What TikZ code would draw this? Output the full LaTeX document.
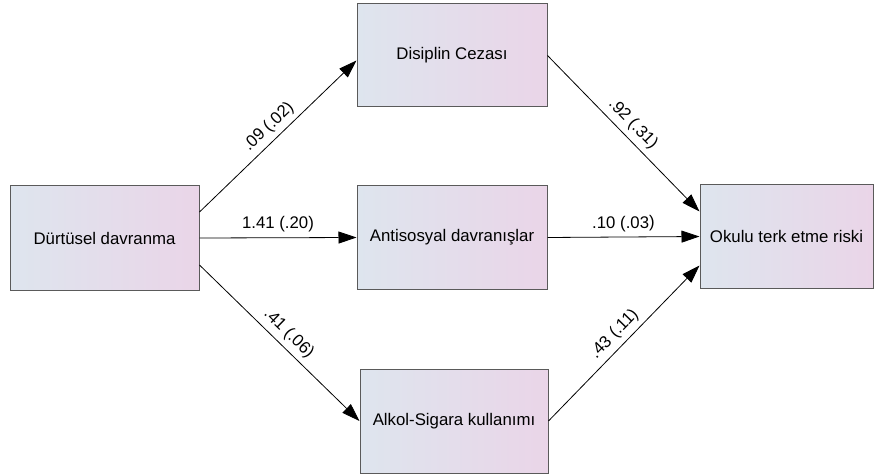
\documentclass[tikz,border=0pt]{standalone}
\usepackage{fontspec}
\setmainfont{Liberation Sans}
\usetikzlibrary{positioning,arrows.meta}
\definecolor{boxleft}{HTML}{DEE5EE}
\definecolor{boxright}{HTML}{EAD5E8}
\definecolor{boxline}{HTML}{5A5A5A}

\begin{document}
\begin{tikzpicture}[x=1pt, y=-1pt,
	main/.style = {draw=boxline, line width=1pt, left color=boxleft, right color=boxright,
		minimum width=190pt, minimum height=103pt, inner sep=0pt,
		font=\fontsize{16.8}{20}\selectfont},
	arr/.style = {draw, line width=0.8pt, -{Triangle[length=18pt,width=12pt]}},
	lbl/.style = {font=\fontsize{16.8}{20}\selectfont, inner sep=2pt, above=3pt, sloped, midway}]
	\useasboundingbox (0,0) rectangle (879,476);
	\node[main, minimum width=189pt, minimum height=104pt] (d) at (104.5,238) {Dürtüsel davranma};
	\node[main] (s) at (452,237.5) {Antisosyal davranışlar};
	\node[main] (c) [above=78pt of s] {Disiplin Cezası};
	\node[main, minimum width=188pt, minimum height=104pt] (a) [below=79pt of s, xshift=2pt] {Alkol-Sigara kullanımı};
	\node[main, minimum width=173pt] (o) at (786.5,236.5) {Okulu terk etme riski};
	\draw[arr] ([yshift=26pt]d.east) -- node[lbl] {.09 (.02)} ([yshift=-5pt]c.west);
	\draw[arr] (d.east) -- node[lbl] {1.41 (.20)} (s.west);
	\draw[arr] ([yshift=-27pt]d.east) -- node[lbl] {.41 (.06)} (a.west);
	\draw[arr] (c.east) -- node[lbl] {.92 (.31)} ([yshift=25pt]o.west);
	\draw[arr] (s.east) -- node[lbl] {.10 (.03)} (o.west);
	\draw[arr] (a.east) -- node[lbl] {.43 (.11)} ([yshift=-29pt]o.west);
\end{tikzpicture}
\end{document}
